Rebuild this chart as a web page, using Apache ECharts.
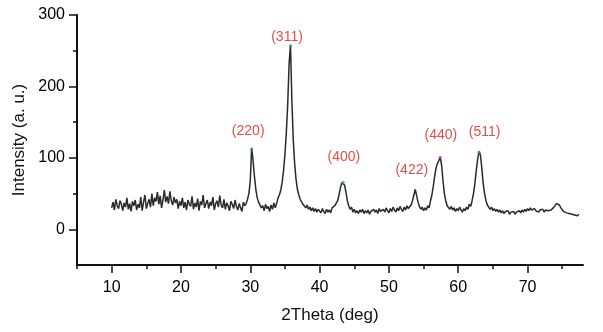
<!DOCTYPE html>
<html><head><meta charset="utf-8">
<script src="https://cdn.jsdelivr.net/npm/echarts@6/dist/echarts.min.js"></script>
<style>html,body{margin:0;padding:0;background:#fff}#c{width:603px;height:332px}</style>
</head><body><div id="c"></div>
<script>
// 2Theta sampling of the pattern (deg)
const twoThetaStart = 10.0;
const twoThetaStep = 0.2;
// Intensity (a. u.), one value per sample
const intensity = [
  30, 38, 27, 42, 33, 29, 40, 35, 26, 37,
  31, 44, 28, 36, 25, 39, 33, 41, 27, 35,
  30, 45, 26, 38, 48, 29, 36, 42, 31, 50,
  33, 44, 39, 52, 35, 47, 30, 41, 55, 38,
  46, 36, 53, 40, 34, 45, 37, 42, 29, 39,
  33, 44, 30, 38, 27, 41, 35, 32, 46, 28,
  37, 31, 43, 26, 39, 34, 48, 30, 36, 41,
  29, 38, 33, 45, 27, 36, 40, 31, 47, 34,
  30, 42, 28, 37, 33, 26, 39, 35, 29, 41,
  32, 27, 36, 30, 25, 38, 33, 36, 42, 50,
  68, 114, 96, 74, 56, 44, 38, 36, 30, 33,
  26, 35, 29, 32, 25, 34, 28, 37, 30, 36,
  44, 48, 55, 66, 82, 105, 135, 175, 232, 258,
  180, 125, 92, 70, 56, 48, 42, 41, 35, 36,
  30, 34, 28, 31, 26, 30, 25, 29, 24, 28,
  26, 23, 29, 25, 22, 28, 24, 27, 23, 30,
  28, 33, 34, 40, 48, 58, 65, 66, 62, 52,
  40, 33, 28, 31, 24, 28, 23, 26, 22, 27,
  24, 28, 22, 26, 23, 27, 21, 25, 23, 28,
  24, 27, 22, 29, 25, 23, 28, 24, 30, 26,
  23, 29, 25, 31, 27, 24, 30, 26, 32, 28,
  25, 31, 27, 33, 29, 28, 34, 40, 48, 56,
  47, 38, 32, 28, 31, 26, 30, 27, 33, 30,
  40, 48, 60, 74, 86, 92, 96, 101, 90, 68,
  50, 40, 33, 34, 28, 32, 27, 30, 25, 29,
  26, 31, 27, 24, 29, 26, 31, 28, 35, 32,
  40, 50, 64, 82, 98, 109, 104, 86, 64, 50,
  40, 34, 34, 28, 31, 26, 29, 25, 28, 24,
  27, 23, 26, 22, 25, 23, 26, 21, 24, 22,
  25, 21, 24, 22, 26, 23, 27, 24, 28, 25,
  29, 26, 30, 27, 25, 29, 26, 28, 24, 27,
  25, 28, 24, 27, 25, 26, 24, 27, 28, 31,
  33, 36, 38, 34, 30, 28, 25, 27, 23, 25,
  22, 24, 21, 23, 20, 22, 19, 21
];
// peak labels (Miller indices) and where their text sits
const peakNames = ['(220)', '(311)', '(400)', '(422)', '(440)', '(511)'];
const labelX = [29.7, 35.3, 43.5, 53.3, 57.5, 63.8];
const labelY = [137, 269, 101, 83, 132, 136];
// small coloured markers at peak tips
const tipX = [30.2, 35.8, 43.4, 57.4, 63.0];
const tipY = [112, 257, 66, 101, 108];
const tipColors = ['#2fa84f', '#2fa84f', '#2fa84f', '#c040d0', '#2fa84f'];
// axes
const xMin = 5, xMax = 78;
const yMin = -50, yMax = 300;
const xMajor = [10, 20, 30, 40, 50, 60, 70];
const xMinor = [5, 15, 25, 35, 45, 55, 65, 75];
const yMajor = [0, 100, 200, 300];
const yMinor = [50, 150, 250];

const lineData = intensity.map((v, i) => [+(twoThetaStart + i * twoThetaStep).toFixed(2), v]);
const labelData = peakNames.map((n, i) => ({ name: n, value: [labelX[i], labelY[i]] }));
const tipData = tipX.map((x, i) => ({ value: [x, tipY[i]], itemStyle: { color: tipColors[i] } }));

const font = "'Liberation Sans', Arial, sans-serif";
const chart = echarts.init(document.getElementById('c'), null, { renderer: 'canvas' });
chart.setOption({
  animation: false,
  backgroundColor: '#fff',
  grid: { left: 77, right: 20, top: 15, bottom: 67, containLabel: false },
  xAxis: [{
    type: 'value', min: xMin, max: xMax, position: 'bottom',
    name: '2Theta (deg)', nameLocation: 'middle', nameGap: 42,
    nameTextStyle: { fontFamily: font, fontSize: 17, color: '#111' },
    axisLine: { show: true, onZero: false, lineStyle: { color: '#111', width: 2 } },
    axisTick: { show: true, customValues: xMajor, length: 8, lineStyle: { color: '#111', width: 1.5 } },
    axisLabel: { customValues: xMajor, fontFamily: font, fontSize: 16, color: '#000', margin: 15 },
    splitLine: { show: false }
  }, {
    type: 'value', min: xMin, max: xMax, position: 'bottom',
    axisLine: { show: false, onZero: false },
    axisTick: { show: true, customValues: xMinor, length: 4, lineStyle: { color: '#111', width: 1.5 } },
    axisLabel: { show: false },
    splitLine: { show: false }
  }],
  yAxis: [{
    type: 'value', min: yMin, max: yMax, position: 'left',
    name: 'Intensity (a. u.)', nameLocation: 'middle', nameGap: 48, nameRotate: 90,
    nameTextStyle: { fontFamily: font, fontSize: 17, color: '#111' },
    axisLine: { show: true, onZero: false, lineStyle: { color: '#111', width: 2 } },
    axisTick: { show: true, customValues: yMajor, length: 8, lineStyle: { color: '#111', width: 1.5 } },
    axisLabel: { customValues: yMajor, fontFamily: font, fontSize: 16, color: '#000', margin: 12 },
    splitLine: { show: false }
  }, {
    type: 'value', min: yMin, max: yMax, position: 'left',
    axisLine: { show: false, onZero: false },
    axisTick: { show: true, customValues: yMinor, length: 4, lineStyle: { color: '#111', width: 1.5 } },
    axisLabel: { show: false },
    splitLine: { show: false }
  }],
  series: [{
    type: 'line', xAxisIndex: 0, yAxisIndex: 0, data: lineData,
    showSymbol: false, symbol: 'none',
    lineStyle: { color: '#2a2a2a', width: 1.5 }
  }, {
    type: 'scatter', xAxisIndex: 0, yAxisIndex: 0, data: tipData,
    symbolSize: 3, z: 3
  }, {
    type: 'scatter', xAxisIndex: 0, yAxisIndex: 0, data: labelData,
    symbolSize: 0,
    label: { show: true, position: 'inside', formatter: p => p.name,
      fontFamily: font, fontSize: 14, color: '#e0201c' }
  }]
});
</script></body></html>
